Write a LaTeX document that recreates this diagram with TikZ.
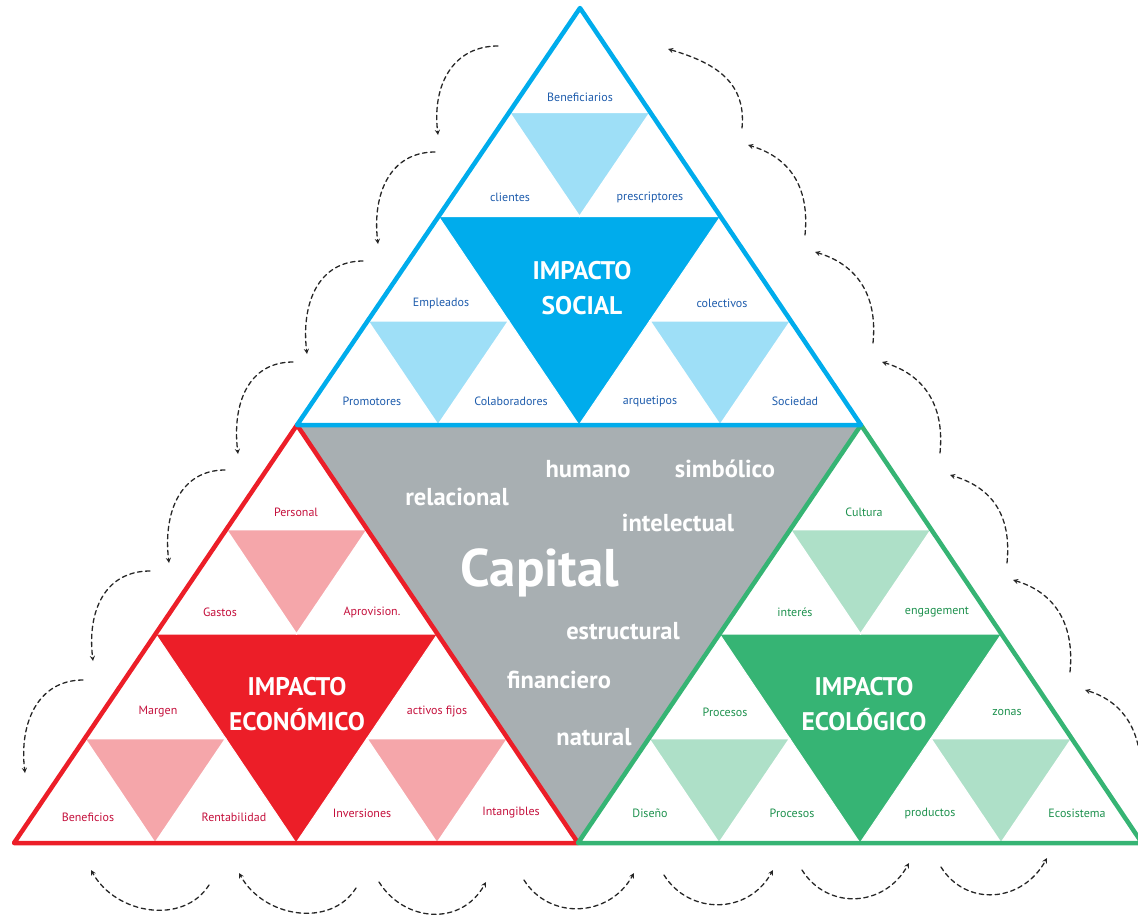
\documentclass[tikz,border=0pt]{standalone}
\usepackage{fontspec}
\setmainfont{PT Sans}
\usetikzlibrary{calc}

\definecolor{azul}{RGB}{0,172,236}
\definecolor{azulclaro}{RGB}{158,223,247}
\definecolor{azultexto}{RGB}{30,92,172}
\definecolor{rojo}{RGB}{236,30,40}
\definecolor{rojoclaro}{RGB}{245,166,170}
\definecolor{rojotexto}{RGB}{196,16,60}
\definecolor{verde}{RGB}{54,180,116}
\definecolor{verdeclaro}{RGB}{174,224,200}
\definecolor{verdetexto}{RGB}{30,145,78}
\definecolor{gris}{RGB}{168,175,178}

% #1 top, #2 left, #3 right, #4 colour, #5 light colour
\newcommand{\bloque}[5]{%
  \fill[#4,draw=white,line width=1pt] (barycentric cs:#1=1,#2=1) -- (barycentric cs:#1=1,#3=1) -- (barycentric cs:#2=1,#3=1) -- cycle;
  \fill[#5,draw=white,line width=1.5pt] (barycentric cs:#1=3,#2=1) -- (barycentric cs:#1=3,#3=1) -- (barycentric cs:#1=2,#2=1,#3=1) -- cycle;
  \fill[#5,draw=white,line width=1.5pt] (barycentric cs:#1=1,#2=3) -- (barycentric cs:#1=1,#2=2,#3=1) -- (barycentric cs:#2=3,#3=1) -- cycle;
  \fill[#5,draw=white,line width=1.5pt] (barycentric cs:#1=1,#2=1,#3=2) -- (barycentric cs:#1=1,#3=3) -- (barycentric cs:#2=1,#3=3) -- cycle;
  \draw[#4,line width=4.5pt] (#1) -- (#2) -- (#3) -- cycle;
}

\tikzset{
  etiq/.style={font=\fontsize{12}{13}\selectfont, inner sep=0pt},
  titulo/.style={font=\fontsize{25.5}{35}\selectfont\bfseries, text=white, align=center, inner sep=0pt},
  palabra/.style={font=\fontsize{24.5}{26}\selectfont\bfseries, text=white, inner sep=0pt},
  flecha/.style={->, >=stealth, line width=1.3pt, dash pattern=on 4.5pt off 3.5pt, black!85}
}

\begin{document}
\begin{tikzpicture}[x=1pt,y=-1pt,line join=round,line cap=round]
\useasboundingbox (0,0) rectangle (1138,916);

% vertices
\coordinate (A) at (580,8);
\coordinate (L) at (14,843);
\coordinate (R) at (1142,843);
\coordinate (AL) at (297,425);
\coordinate (AR) at (861,425);
\coordinate (LR) at (578,843);

\fill[gris] (AL) -- (AR) -- (LR) -- cycle;
\bloque{AL}{L}{LR}{rojo}{rojoclaro}
\bloque{AR}{LR}{R}{verde}{verdeclaro}
\bloque{A}{AL}{AR}{azul}{azulclaro}

% social
\begin{scope}[every node/.style={etiq,text=azultexto}]
\node (benef) at (580,97) {Beneficiarios};
\node (clien) at (510,197) {clientes};
\node (presc) at (650,197) {prescriptores};
\node (emple) at (441,303) {Empleados};
\node (colec) at (722,303) {colectivos};
\node (promo) at (372,401) {Promotores};
\node (colab) at (511,401) {Colaboradores};
\node (arque) at (650,401) {arquetipos};
\node (socie) at (795,401) {Sociedad};
\end{scope}
\node[titulo] (social) at (582,288) {IMPACTO\\SOCIAL};

% economico
\begin{scope}[every node/.style={etiq,text=rojotexto}]
\node (perso) at (296,512) {Personal};
\node (gasto) at (220,612) {Gastos};
\node (aprov) at (372,612) {Aprovision.};
\node (marge) at (158,712) {Margen};
\node (activ) at (437,712) {activos fijos};
\node (benfc) at (88,817) {Beneficios};
\node (renta) at (234,817) {Rentabilidad};
\node (inver) at (362,813) {Inversiones};
\node (intan) at (511,813) {Intangibles};
\end{scope}
\node[titulo] (econ) at (297,704) {IMPACTO\\ECONÓMICO};

% ecologico
\begin{scope}[every node/.style={etiq,text=verdetexto}]
\node (cultu) at (864,512) {Cultura};
\node (inter) at (795,612) {interés};
\node (engag) at (937,612) {engagement};
\node (proca) at (725,712) {Procesos};
\node (zonas) at (1007,712) {zonas};
\node (disen) at (650,813) {Diseño};
\node (procb) at (792,813) {Procesos};
\node (produ) at (930,813) {productos};
\node (ecosi) at (1077,813) {Ecosistema};
\end{scope}
\node[titulo] (ecol) at (864,704) {IMPACTO\\ECOLÓGICO};

% capital
\node[palabra] (human) at (588,469) {humano};
\node[palabra] (simbo) at (725,469) {simbólico};
\node[palabra] (relac) at (457,497) {relacional};
\node[palabra] (intel) at (678,523) {intelectual};
\node[palabra,font=\fontsize{53}{55}\selectfont\bfseries] (capit) at (540,573) {Capital};
\node[palabra] (estru) at (623,631) {estructural};
\node[palabra] (finan) at (559,680) {financiero};
\node[palabra] (natur) at (594,737) {natural};

% arcs left
\foreach \xa/\ya/\xb/\yb in {498/46/438/135, 435/152/378/244, 363/261/307/354, 293/362/238/454, 225/470/169/563, 150/571/93/661, 83/680/25/773}
  \draw[flecha] (\xa,\ya) .. controls +(-45,0) and +(-6,-50) .. (\xb,\yb);
% arcs right
\foreach \xa/\ya/\xb/\yb in {742/128/668/49, 805/235/748/145, 873/343/815/252, 940/453/882/362, 1007/563/950/475, 1070/672/1013/580, 1140/785/1085/690}
  \draw[flecha] (\xa,\ya) .. controls +(5,-50) and +(40,12) .. (\xb,\yb);
% arcs bottom
\foreach \xa/\ya/\xb/\yb in {209/885/91/870, 356/888/239/873}
  \draw[flecha] (\xa,\ya) .. controls +(-25,40) and +(25,45) .. (\xb,\yb);
\foreach \xa/\ya/\xb/\yb in {379/882/486/882, 524/880/634/873, 664/875/773/870, 802/870/909/863, 941/867/1047/858}
  \draw[flecha] (\xa,\ya) .. controls +(25,40) and +(-25,45) .. (\xb,\yb);
\end{tikzpicture}
\end{document}
